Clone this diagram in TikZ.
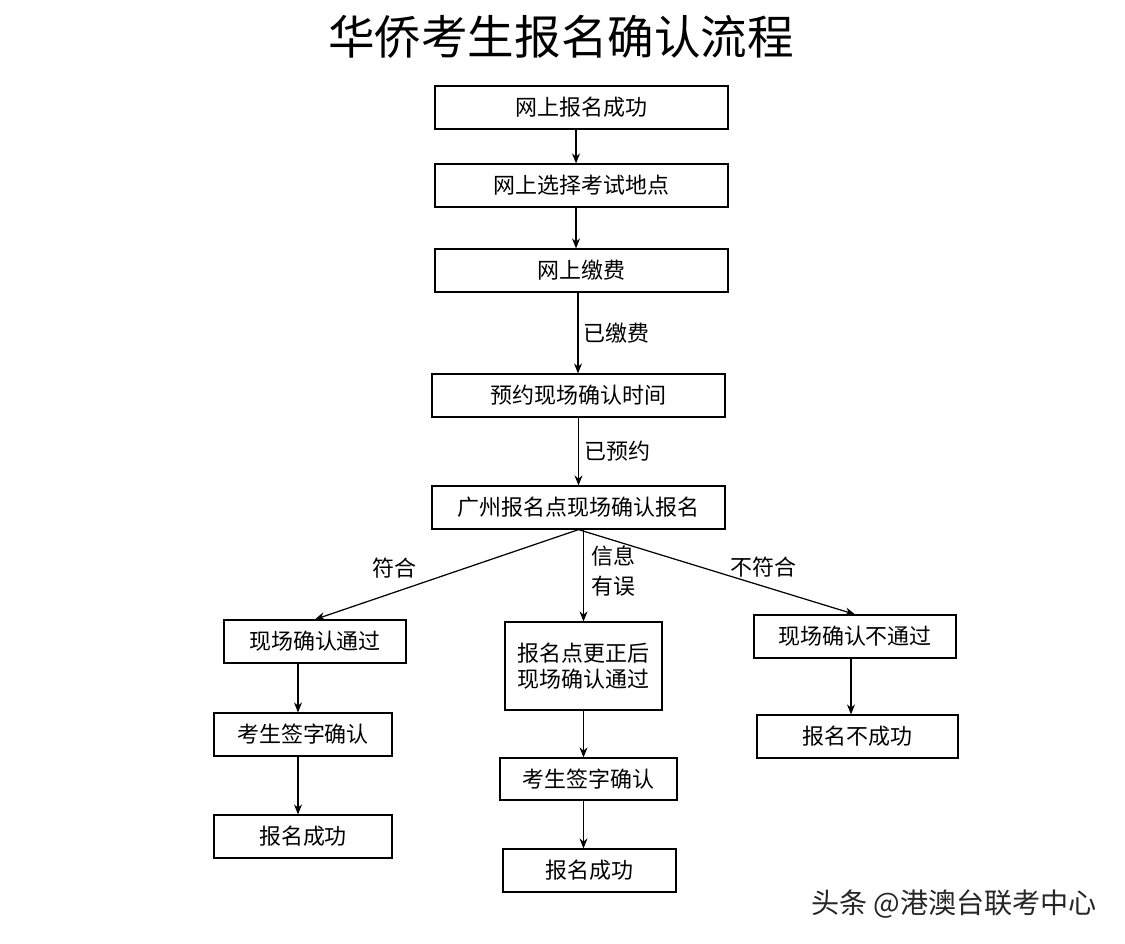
\documentclass[tikz,border=0pt]{standalone}
\usepackage{fontspec}
\setmainfont{Noto Sans CJK SC}
\usetikzlibrary{arrows.meta,positioning}

\begin{document}
\begin{tikzpicture}[x=0.02cm,y=-0.02cm,font=\fontsize{12.5pt}{15pt}\selectfont,
  box/.style={draw,line width=0.7pt,align=center,minimum height=0.86cm,inner sep=2pt},
  arr/.style={-{Stealth[length=2mm,width=1.6mm]},line width=0.7pt},
  lbl/.style={inner sep=1pt}]
\useasboundingbox (0,0) rectangle (1125,943);
\node at (561,37) {\fontsize{26.5pt}{30pt}\selectfont 华侨考生报名确认流程};
% main column
\node[box,minimum width=5.86cm] (b1) at (581.5,107.5) {网上报名成功};
\node[box,minimum width=5.86cm] (b2) at (581.5,185.5) {网上选择考试地点};
\node[box,minimum width=5.86cm] (b3) at (581.5,270.5) {网上缴费};
\node[box,minimum width=5.86cm] (b4) at (578.5,395.5) {预约现场确认时间};
\node[box,minimum width=5.86cm] (b5) at (578.5,507.5) {广州报名点现场确认报名};
% left branch
\node[box,minimum width=3.64cm] (l1) at (315,641.5) {现场确认通过};
\node[box,minimum width=3.56cm] (l2) at (303,734.5) {考生签字确认};
\node[box,minimum width=3.56cm] (l3) at (303,836.5) {报名成功};
% middle branch
\node[box,minimum width=3.14cm,minimum height=1.76cm] (m1) at (583.5,666) {报名点更正后\\现场确认通过};
\node[box,minimum width=3.54cm,minimum height=0.84cm] (m2) at (588.5,779) {考生签字确认};
\node[box,minimum width=3.46cm] (m3) at (589.5,870.5) {报名成功};
% right branch
\node[box,minimum width=4.04cm] (r1) at (855,636.5) {现场确认不通过};
\node[box,minimum width=4.02cm] (r2) at (857.5,736.5) {报名不成功};

\draw[arr] (b1.south -| 576,0) -- (b2.north -| 576,0);
\draw[arr] (b2.south -| 576,0) -- (b3.north -| 576,0);
\draw[arr] (b3.south -| 578,0) -- (b4.north -| 578,0) node[lbl,midway,right=2pt] {已缴费};
\draw[arr] (b4.south) -- (b5.north) node[lbl,midway,right=2pt] {已预约};
\draw[arr] (b5.south) -- (l1.north) node[lbl,pos=0.7,above=7pt] {符合};
\draw[arr] (b5.south -| m1.north) -- (m1.north) node[lbl,pos=0.45,right=3pt,align=left] {信息\\[2pt]有误};
\draw[arr] (b5.south) -- (r1.north) node[lbl,pos=0.67,above=4pt] {不符合};
\draw[arr] (l1.south -| 298,0) -- (l2.north -| 298,0);
\draw[arr] (l2.south -| 298,0) -- (l3.north -| 298,0);
\draw[arr] (m1.south) -- (m1.south |- m2.north);
\draw[arr] (m2.south -| m1.south) -- (m1.south |- m3.north);
\draw[arr] (r1.south -| 851,0) -- (r2.north -| 851,0);

\node[text=black!85] (wm) at (954,904) {\fontsize{16pt}{19pt}\selectfont 头条 @港澳台联考中心};
\end{tikzpicture}
\end{document}
